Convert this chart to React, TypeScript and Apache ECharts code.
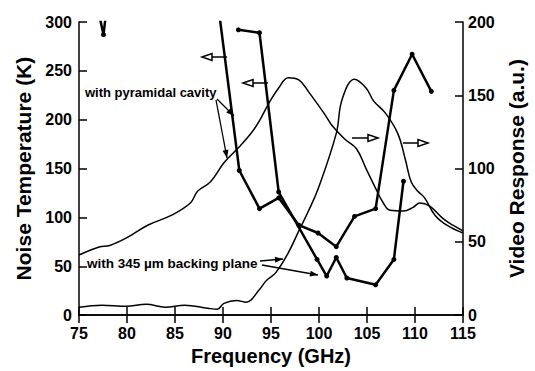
import React, { useEffect, useRef } from "react";
import * as echarts from "echarts";

// Noise temperature (K), left axis
const pyrNoiseF = [76.5, 77.55, 78.5, 89.5, 91.7, 93.8, 95.8, 97.9, 99.9, 101.8, 103.7, 105.9, 107.8, 109.7, 111.7];
const pyrNoiseT = [335, 287, 365, 317, 148, 109, 120, 92, 84, 70, 101, 109, 230, 267, 229];
const backNoiseF = [91.6, 93.8, 95.8, 99.8, 100.8, 101.8, 102.9, 105.9, 107.8, 108.8];
const backNoiseT = [292, 289, 126, 57, 40, 59, 38, 31, 57, 137];

// Video response (a.u.), right axis
const pyrVideoF = [75, 77.1, 78.2, 79.9, 82.2, 84.6, 86.6, 87.35, 88.7, 90.1, 91.5, 92.8, 93.7, 94.9, 95.8, 96.8, 97.9, 98.9, 100.6, 101.4, 102.7, 103.9, 104.9, 105.9, 106.7, 107.4, 108.8, 109.8, 110.5, 111.5, 112.9, 113.9, 115];
const pyrVideoV = [41, 46.5, 47.5, 52.5, 61.5, 68, 76.5, 84.5, 91, 104, 113.5, 123, 131.5, 146, 155, 162, 160.5, 152.5, 137, 129, 120, 113.5, 100, 86.5, 76.5, 71.5, 71, 73.5, 76.5, 74.5, 66, 61.5, 57.5];
const backVideoF = [75, 77.4, 79.9, 82, 84, 86, 88.4, 89.4, 90.1, 91.4, 92.4, 93.8, 94.5, 95.5, 96.8, 97.9, 98.9, 99.9, 101.8, 102.4, 103.7, 104.9, 105.7, 106.9, 108.2, 109, 109.6, 110.3, 111, 112.1, 113.4, 115];
const backVideoV = [5.4, 6.8, 6, 7.4, 5.4, 6.8, 4.7, 4, 8, 10, 8.8, 17.5, 23.5, 29, 42.5, 57.5, 71, 86, 124, 147, 161, 155, 146, 138, 124, 106, 91, 84.5, 80, 68, 61, 56];

const xTicks = { min: 75, max: 115, interval: 5 };
const yLeftTicks = { min: 0, max: 300, interval: 50 };
const yRightTicks = { min: 0, max: 200, interval: 50 };

const FONT = "Liberation Sans, Arial, Helvetica, sans-serif";

function zip(a: number[], b: number[]) {
  return a.map((v, i) => [v, b[i]]);
}

function arrowHead(x1: number, y1: number, x2: number, y2: number, len = 8, w = 3) {
  const dx = x2 - x1, dy = y2 - y1;
  const d = Math.sqrt(dx * dx + dy * dy);
  const ux = dx / d, uy = dy / d;
  const bx = x2 - ux * len, by = y2 - uy * len;
  return [[x2, y2], [bx - uy * w, by + ux * w], [bx + uy * w, by - ux * w]];
}

function solidArrow(x1: number, y1: number, x2: number, y2: number) {
  return [
    { type: "line", shape: { x1, y1, x2, y2 }, style: { stroke: "#000", lineWidth: 1.3 } },
    { type: "polygon", shape: { points: arrowHead(x1, y1, x2, y2) }, style: { fill: "#000" } },
  ];
}

function openArrow(x1: number, y: number, tip: number) {
  const dir = tip < x1 ? 1 : -1;
  const base = tip + dir * 10;
  return [
    { type: "line", shape: { x1, y1: y, x2: base, y2: y }, style: { stroke: "#000", lineWidth: 1.5 } },
    {
      type: "polygon",
      shape: { points: [[tip, y], [base, y - 3.5], [base, y + 3.5]] },
      style: { fill: "#fff", stroke: "#000", lineWidth: 1.5 },
    },
  ];
}

export default function App() {
  const ref = useRef<HTMLDivElement>(null);
  useEffect(() => {
    if (!ref.current) return;
    const chart = echarts.init(ref.current, undefined, { renderer: "svg" });
    const axisLine = { lineStyle: { color: "#000", width: 1.5 } };
    const axisTick = { inside: true, length: 8, lineStyle: { color: "#000", width: 1.5 } };
    const label = { color: "#000", fontSize: 16, fontWeight: "bold", fontFamily: FONT };
    const nameStyle = { color: "#000", fontSize: 20, fontWeight: "bold", fontFamily: FONT };
    const noiseStyle = {
      type: "line",
      symbol: "circle",
      symbolSize: 5,
      lineStyle: { color: "#000", width: 2.5 },
      itemStyle: { color: "#000" },
      clip: true,
      xAxisIndex: 0,
      yAxisIndex: 0,
    };
    const videoStyle = {
      type: "line",
      showSymbol: false,
      smooth: 0.4,
      lineStyle: { color: "#000", width: 1.5 },
      itemStyle: { color: "#000" },
      clip: true,
      xAxisIndex: 0,
      yAxisIndex: 1,
    };
    chart.setOption({
      animation: false,
      backgroundColor: "#fff",
      grid: { left: 79, right: 65, top: 22, bottom: 53, containLabel: false },
      xAxis: [
        {
          type: "value", ...xTicks, position: "bottom",
          axisLine, axisTick, splitLine: { show: false },
          axisLabel: { ...label, margin: 10 },
          name: "Frequency (GHz)", nameLocation: "middle", nameGap: 29,
          nameTextStyle: nameStyle,
        },
        {
          type: "value", ...xTicks, position: "top",
          axisLine, axisTick, splitLine: { show: false },
          axisLabel: { show: false },
        },
      ],
      yAxis: [
        {
          type: "value", ...yLeftTicks, position: "left",
          axisLine, axisTick, splitLine: { show: false },
          axisLabel: { ...label, margin: 7 },
          name: "Noise Temperature (K)", nameLocation: "middle", nameGap: 44, nameRotate: 90,
          nameTextStyle: { ...nameStyle, fontSize: 21 },
        },
        {
          type: "value", ...yRightTicks, position: "right",
          axisLine, axisTick, splitLine: { show: false },
          axisLabel: { ...label, margin: 5 },
          name: "Video Response (a.u.)", nameLocation: "middle", nameGap: 43, nameRotate: 90,
          nameTextStyle: { ...nameStyle, fontSize: 21 },
        },
      ],
      series: [
        { ...noiseStyle, name: "Noise temperature, pyramidal cavity", data: zip(pyrNoiseF, pyrNoiseT) },
        { ...noiseStyle, name: "Noise temperature, 345 µm backing plane", data: zip(backNoiseF, backNoiseT) },
        { ...videoStyle, name: "Video response, pyramidal cavity", data: zip(pyrVideoF, pyrVideoV) },
        { ...videoStyle, name: "Video response, 345 µm backing plane", data: zip(backVideoF, backVideoV) },
      ],
      graphic: [
        {
          type: "text", x: 85, y: 92,
          style: { text: "with pyramidal cavity", fill: "#000", font: `bold 13px ${FONT}`, textVerticalAlign: "middle" },
        },
        {
          type: "text", x: 87, y: 263,
          style: { text: "with 345 µm backing plane", fill: "#000", font: `bold 13.5px ${FONT}`, textVerticalAlign: "middle" },
        },
        ...solidArrow(217, 99, 234, 116),
        ...solidArrow(216, 100, 227, 158),
        ...solidArrow(260, 261, 283, 259),
        ...solidArrow(262, 265, 318, 275),
        ...openArrow(227, 57, 202),
        ...openArrow(268, 83, 243),
        ...openArrow(352, 138, 378),
        ...openArrow(403, 143, 428),
      ],
    });
    return () => chart.dispose();
  }, []);
  return (
    <div
      ref={ref}
      style={{ position: "absolute", left: 0, top: 0, width: 535, height: 371 }}
    />
  );
}
